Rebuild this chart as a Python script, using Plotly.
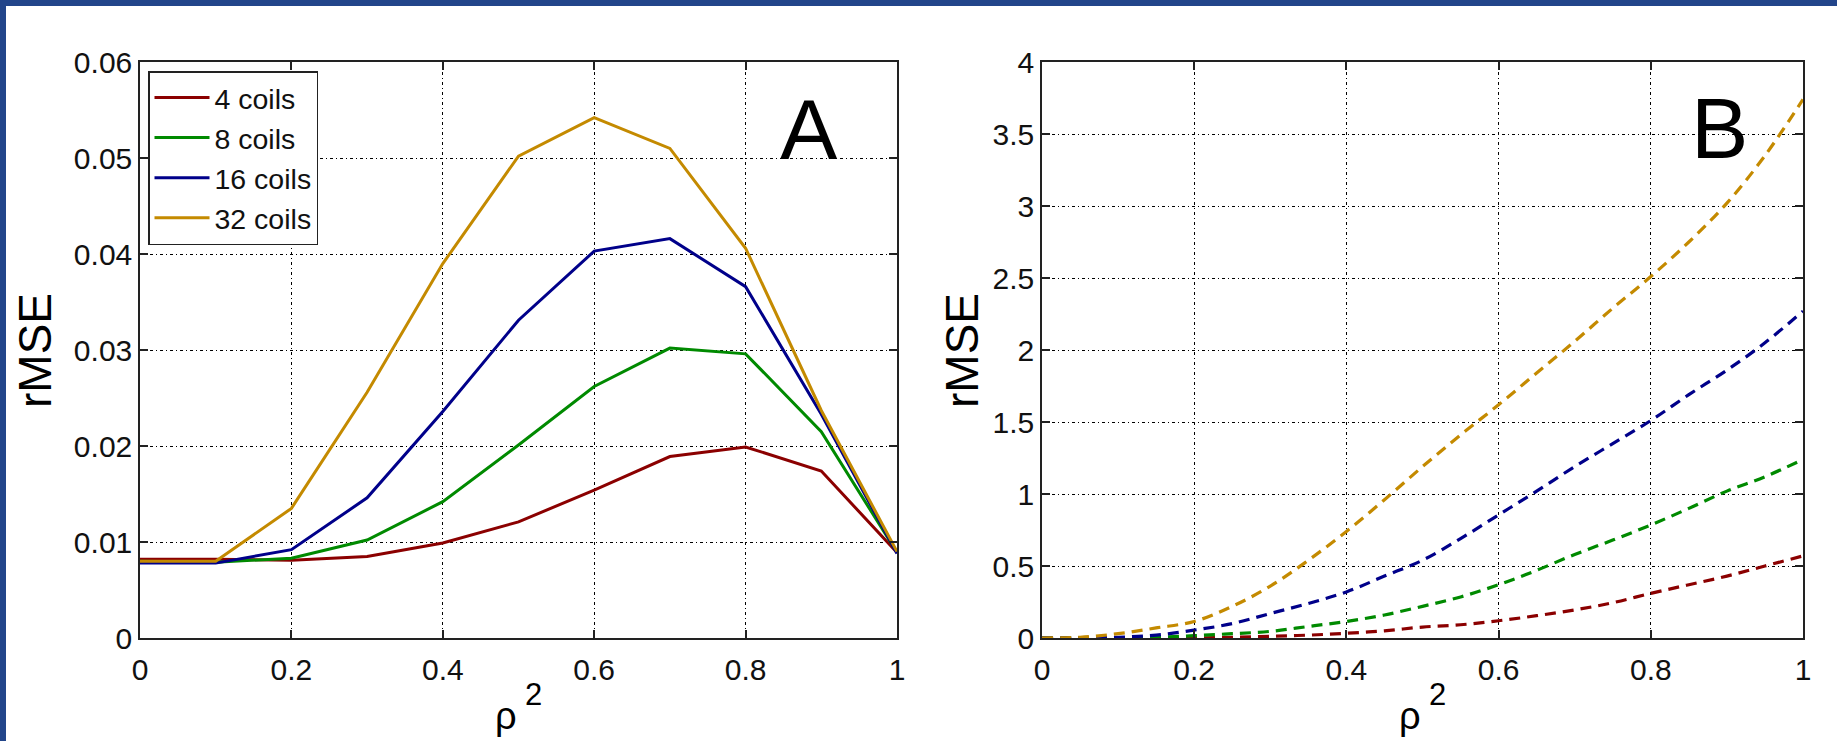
import plotly.graph_objects as go

W, H = 1837, 741

# ---------------- data ----------------
series_names = ["4 coils", "8 coils", "16 coils", "32 coils"]
series_colors = ["#8b0000", "#008a00", "#00008a", "#c48a00"]

# Panel A (solid lines)
rho2_a = [0.0, 0.1, 0.2, 0.3, 0.4, 0.5, 0.6, 0.7, 0.8, 0.9, 1.0]
a_4 = [0.0082, 0.0082, 0.0081, 0.0085, 0.0099, 0.0121, 0.0154, 0.0189, 0.0199, 0.0174, 0.0089]
a_8 = [0.0080, 0.0079, 0.0083, 0.0102, 0.0142, 0.0201, 0.0262, 0.0302, 0.0296, 0.0215, 0.0089]
a_16 = [0.0078, 0.0078, 0.0092, 0.0146, 0.0236, 0.0331, 0.0403, 0.0416, 0.0366, 0.0233, 0.0088]
a_32 = [0.0080, 0.0080, 0.0135, 0.0256, 0.0390, 0.0502, 0.0542, 0.0510, 0.0406, 0.0237, 0.0090]

# Panel B (dashed lines)
rho2_b = [0.0, 0.05, 0.1, 0.15, 0.2, 0.25, 0.3, 0.35, 0.4, 0.45, 0.5,
          0.55, 0.6, 0.65, 0.7, 0.75, 0.8, 0.85, 0.9, 0.95, 1.0]
b_4 = [0, 0, 0, 0, 0, 0.005, 0.012, 0.02, 0.033, 0.05, 0.076,
       0.092, 0.12, 0.155, 0.195, 0.245, 0.31, 0.37, 0.43, 0.50, 0.57]
b_8 = [0, 0, 0, 0.005, 0.016, 0.03, 0.046, 0.08, 0.115, 0.16, 0.22,
       0.285, 0.37, 0.47, 0.58, 0.68, 0.785, 0.90, 1.02, 1.12, 1.24]
b_16 = [0, 0, 0.005, 0.02, 0.055, 0.10, 0.17, 0.24, 0.32, 0.43, 0.54,
        0.69, 0.855, 1.02, 1.19, 1.35, 1.51, 1.69, 1.86, 2.05, 2.27]
b_32 = [0, 0.005, 0.03, 0.07, 0.115, 0.22, 0.36, 0.54, 0.74, 0.96, 1.19,
        1.41, 1.62, 1.84, 2.06, 2.29, 2.51, 2.75, 3.02, 3.35, 3.74]

x_ticks = [0, 0.2, 0.4, 0.6, 0.8, 1]
x_ticklabels = ["0", "0.2", "0.4", "0.6", "0.8", "1"]
ya_ticks = [0, 0.01, 0.02, 0.03, 0.04, 0.05, 0.06]
ya_ticklabels = ["0", "0.01", "0.02", "0.03", "0.04", "0.05", "0.06"]
yb_ticks = [0, 0.5, 1, 1.5, 2, 2.5, 3, 3.5, 4]
yb_ticklabels = ["0", "0.5", "1", "1.5", "2", "2.5", "3", "3.5", "4"]

series_a = [a_4, a_8, a_16, a_32]
series_b = [b_4, b_8, b_16, b_32]

# ---------------- figure ----------------
FONT = "Liberation Sans, Arial, Helvetica, sans-serif"
fig = go.Figure()

for name, col, ys in zip(series_names, series_colors, series_a):
    fig.add_trace(go.Scatter(x=rho2_a, y=ys, mode="lines", name=name,
                             line=dict(color=col, width=3),
                             xaxis="x", yaxis="y"))
for name, col, ys in zip(series_names, series_colors, series_b):
    fig.add_trace(go.Scatter(x=rho2_b, y=ys, mode="lines", name=name,
                             showlegend=False,
                             line=dict(color=col, width=3.2, dash="11px,7px", shape="spline"),
                             xaxis="x2", yaxis="y2"))

def px_x(p):
    return p / W

def px_y(p):
    return 1 - p / H

ax_common = dict(
    showline=True, linecolor="#222222", linewidth=1.5, mirror="ticks",
    ticks="inside", ticklen=8, tickwidth=1.5, tickcolor="#222222",
    showgrid=True, gridcolor="black", gridwidth=1, griddash="3px,3px,1px,3px",
    zeroline=False, automargin=False,
    tickfont=dict(family=FONT, size=30, color="#111111"),
)

y_dom = [px_y(638), px_y(62)]
fig.update_layout(
    width=W, height=H,
    margin=dict(l=0, r=0, t=0, b=0),
    paper_bgcolor="white", plot_bgcolor="white",
    font=dict(family=FONT, color="black"),
    xaxis=dict(domain=[px_x(140), px_x(897)], range=[0, 1], anchor="y",
               tickvals=x_ticks, ticktext=x_ticklabels, ticklabelstandoff=4, **ax_common),
    yaxis=dict(domain=y_dom, range=[0, 0.06], anchor="x",
               tickvals=ya_ticks, ticktext=ya_ticklabels, **ax_common),
    xaxis2=dict(domain=[px_x(1042), px_x(1803)], range=[0, 1], anchor="y2",
                tickvals=x_ticks, ticktext=x_ticklabels, ticklabelstandoff=4, **ax_common),
    yaxis2=dict(domain=y_dom, range=[0, 4], anchor="x2",
                tickvals=yb_ticks, ticktext=yb_ticklabels, **ax_common),
    legend=dict(x=px_x(148), y=px_y(71), xanchor="left", yanchor="top",
                bgcolor="white", bordercolor="#222222", borderwidth=1.5,
                font=dict(family=FONT, size=28.5, color="#111111"),
                itemwidth=55, tracegroupgap=0),
    showlegend=True,
)

def txt(text, x, y, size, xref="paper", yref="paper", angle=0):
    return dict(text=text, x=x, y=y, xref=xref, yref=yref, showarrow=False,
                xanchor="center", yanchor="middle", textangle=angle,
                font=dict(family=FONT, size=size, color="black"))

ann = []
# panel letters
ann.append(txt("A", 0.884, 0.053, 86, "x", "y"))
ann.append(txt("B", 0.89, 3.54, 86, "x2", "y2"))
# y-axis titles
for xc in (35, 962):
    ann.append(txt("rMSE", px_x(xc), px_y(351), 46, angle=-90))
# x-axis titles: rho^2
for xc in (518, 1422):
    ann.append(txt("ρ", px_x(xc - 12), px_y(716), 38))
    ann.append(txt("2", px_x(xc + 15), px_y(694), 31))
fig.update_layout(annotations=ann)

# blue frame strips (top and left)
fig.update_layout(shapes=[
    dict(type="rect", xref="paper", yref="paper", x0=0, x1=1, y0=px_y(6), y1=1,
         fillcolor="#22458a", line=dict(width=0), layer="above"),
    dict(type="rect", xref="paper", yref="paper", x0=0, x1=px_x(6), y0=0, y1=1,
         fillcolor="#22458a", line=dict(width=0), layer="above"),
])

fig.write_html(
    "out.html",
    config={"displayModeBar": False},
    post_script="document.body.style.margin='0';document.body.style.overflow='hidden';",
)
